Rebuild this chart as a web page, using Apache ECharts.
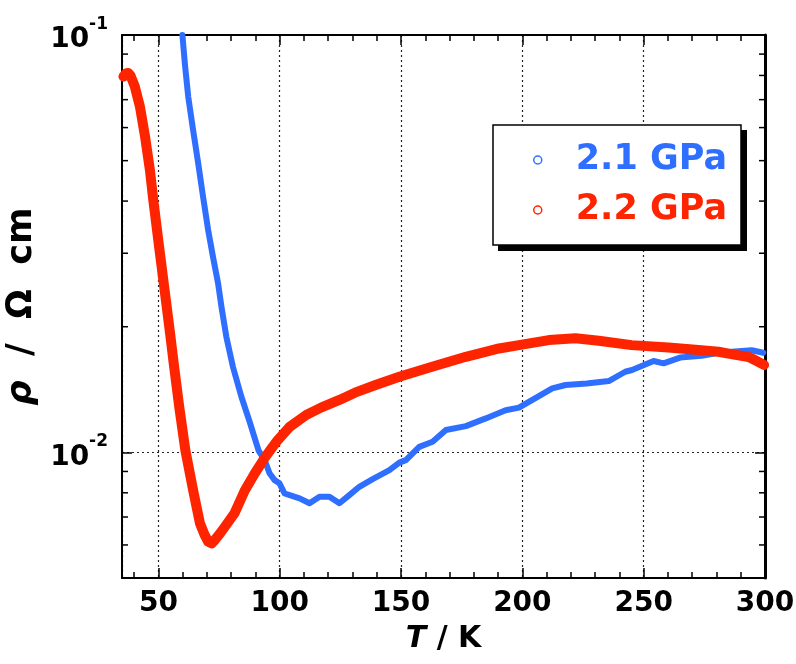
<!DOCTYPE html>
<html><head><meta charset="utf-8">
<script src="https://cdn.jsdelivr.net/npm/echarts@6/dist/echarts.min.js"></script>
<style>html,body{margin:0;padding:0;background:#fff}#c{width:796px;height:664px}</style>
</head><body><div id="c"></div>
<script>
// ---- data ----
const seriesNames = ['2.1 GPa', '2.2 GPa'];
const tempBlue = [59.9, 60.9, 62.3, 64.3, 66.4, 68.4, 70.5, 72.5, 74.6, 76.0, 78.0, 80.7, 84.2, 87.6, 91.3, 93.8, 95.8, 97.9, 99.9, 102.0, 104.1, 108.2, 112.3, 116.4, 120.5, 124.6, 128.7, 132.8, 138.3, 145.2, 149.3, 152.0, 157.5, 163.0, 168.5, 176.7, 184.9, 193.1, 198.6, 206.8, 212.3, 217.8, 226.5, 235.6, 242.4, 245.2, 254.1, 258.2, 265.0, 273.9, 280.8, 286.3, 294.5, 299.3];
const rhoBlue = [0.100, 0.0855, 0.0711, 0.0592, 0.0493, 0.0410, 0.0341, 0.0294, 0.0254, 0.0223, 0.01892, 0.01604, 0.01359, 0.01184, 0.0101, 0.00958, 0.00891, 0.00858, 0.00843, 0.00797, 0.00790, 0.00776, 0.00755, 0.00783, 0.00783, 0.00755, 0.00790, 0.00827, 0.00863, 0.00907, 0.00945, 0.00958, 0.01031, 0.01060, 0.01131, 0.01156, 0.01206, 0.01262, 0.0128, 0.01364, 0.01423, 0.01450, 0.01463, 0.01482, 0.01560, 0.01575, 0.01655, 0.01634, 0.01687, 0.01703, 0.01733, 0.01742, 0.01756, 0.01733];
const tempRed = [35.6, 36.6, 37.6, 38.5, 40.3, 42.4, 44.5, 46.5, 47.9, 50.1, 52.9, 54.8, 56.5, 58.6, 61.1, 64.3, 67.1, 69.0, 70.5, 71.9, 73.2, 75.0, 77.3, 81.4, 85.6, 89.7, 93.8, 96.0, 99.2, 104.1, 110.9, 117.0, 124.6, 131.0, 139.5, 149.3, 162.8, 176.7, 190.4, 198.6, 210.9, 221.9, 231.5, 245.0, 260.2, 272.6, 280.8, 286.1, 293.3, 297.2, 299.6];
const rhoRed = [0.0795, 0.0809, 0.0811, 0.0800, 0.0752, 0.0673, 0.0571, 0.0475, 0.0402, 0.0317, 0.0236, 0.0193, 0.0160, 0.01284, 0.01013, 0.00812, 0.00677, 0.00635, 0.00611, 0.00605, 0.00616, 0.00635, 0.00662, 0.00715, 0.0081, 0.0089, 0.0097, 0.0101, 0.0107, 0.01151, 0.01229, 0.0128, 0.01335, 0.0139, 0.0145, 0.01518, 0.01604, 0.01694, 0.01774, 0.01807, 0.01858, 0.01876, 0.01851, 0.01807, 0.01784, 0.01758, 0.01742, 0.01720, 0.01692, 0.01648, 0.0162];
const xTickLabels = [50, 100, 150, 200, 250, 300];
const yMinorTicks = [0.006, 0.007, 0.008, 0.009, 0.02, 0.03, 0.04, 0.05, 0.06, 0.07, 0.08, 0.09];
const xMin = 35, xMax = 300, yMin = 0.005, yMax = 0.1;

// ---- chart ----
const font = 'DejaVu Sans';
const blue = '#2f6fff', red = '#ff2400';
const chart = echarts.init(document.getElementById('c'), null, {renderer: 'canvas'});
const pairs = (xs, ys) => xs.map((x, i) => [x, ys[i]]);
const isPow10 = v => { const l = Math.log10(v); return Math.abs(l - Math.round(l)) < 1e-6; };
const gridLine = {show: true, lineStyle: {color: '#222', type: [2, 3], width: 1.2}};
const tickStyle = {color: '#000', width: 1.5};

const option = {
  animation: false,
  backgroundColor: '#fff',
  grid: {left: 122, right: 31, top: 35, bottom: 86, outerBoundsMode: 'none', containLabel: false},
  graphic: [{
    type: 'rect', left: 498, top: 130, z: 3, silent: true,
    shape: {width: 249, height: 121}, style: {fill: '#000'}
  }],
  xAxis: [{
    type: 'value', min: xMin, max: xMax, splitNumber: 5, position: 'bottom',
    axisLine: {lineStyle: {color: '#000', width: 2}},
    axisTick: {inside: true, length: 10, lineStyle: tickStyle},
    minorTick: {show: true, splitNumber: 5, length: 6, lineStyle: tickStyle},
    splitLine: gridLine,
    axisLabel: {margin: 12, fontFamily: font, fontWeight: 'bold', fontSize: 28, color: '#000',
      formatter: v => xTickLabels.includes(v) ? String(v) : ''},
    name: '{i|T} / K', nameLocation: 'middle', nameGap: 46,
    nameTextStyle: {fontFamily: font, fontWeight: 'bold', fontSize: 30, color: '#000',
      rich: {i: {fontStyle: 'italic', fontFamily: font, fontWeight: 'bold', fontSize: 30, color: '#000'}}}
  }, {
    type: 'value', min: xMin, max: xMax, splitNumber: 5, position: 'top',
    axisLine: {lineStyle: {color: '#000', width: 2}},
    axisTick: {inside: true, length: 10, lineStyle: tickStyle},
    minorTick: {show: true, splitNumber: 5, length: 6, lineStyle: tickStyle},
    splitLine: {show: false}, axisLabel: {show: false}
  }],
  yAxis: [{
    type: 'log', logBase: 10, min: yMin, max: yMax, position: 'left',
    axisLine: {lineStyle: {color: '#000', width: 2}},
    axisTick: {inside: true, length: 10, lineStyle: tickStyle},
    splitLine: gridLine,
    axisLabel: {margin: 14, color: '#000',
      formatter: v => isPow10(v) ? '{b|10}{s|' + Math.round(Math.log10(v)) + '}' : '',
      rich: {
        b: {fontFamily: font, fontWeight: 'bold', fontSize: 28, color: '#000', verticalAlign: 'bottom', lineHeight: 38},
        s: {fontFamily: font, fontWeight: 'bold', fontSize: 17, color: '#000', verticalAlign: 'top', lineHeight: 20}
      }},
    name: '{i|ρ}  /  Ω  cm', nameLocation: 'middle', nameGap: 63, nameRotate: 90,
    nameTextStyle: {fontFamily: font, fontWeight: 'bold', fontSize: 35, color: '#000',
      rich: {i: {fontStyle: 'italic', fontFamily: font, fontWeight: 'bold', fontSize: 35, color: '#000'}}}
  }, {
    type: 'log', logBase: 10, min: yMin, max: yMax, position: 'right',
    axisLine: {lineStyle: {color: '#000', width: 3}},
    axisTick: {inside: true, length: 10, lineStyle: tickStyle},
    splitLine: {show: false}, axisLabel: {show: false}
  }],
  legend: {
    orient: 'vertical', left: 493, top: 125, padding: [15, 14, 15, 40], itemGap: 10, z: 4,
    itemWidth: 8, itemHeight: 8,
    backgroundColor: '#fff', borderColor: '#000', borderWidth: 1.5,
    textStyle: {fontFamily: font, fontWeight: 'bold', fontSize: 35, lineHeight: 40, padding: [0, 0, 0, 29]},
    data: [
      {name: seriesNames[0], icon: 'circle', itemStyle: {color: '#fff', borderColor: blue, borderWidth: 1.5}, textStyle: {color: blue}},
      {name: seriesNames[1], icon: 'circle', itemStyle: {color: '#fff', borderColor: red, borderWidth: 1.5}, textStyle: {color: red}}
    ]
  },
  series: [{
    name: seriesNames[0], type: 'line', data: pairs(tempBlue, rhoBlue),
    showSymbol: false, symbol: 'none', z: 2,
    lineStyle: {color: blue, width: 6, cap: 'round', join: 'round'}, itemStyle: {color: blue}
  }, {
    name: seriesNames[1], type: 'line', data: pairs(tempRed, rhoRed),
    showSymbol: false, symbol: 'none', z: 2,
    lineStyle: {color: red, width: 10, cap: 'round', join: 'round'}, itemStyle: {color: red}
  }, {
    name: 'yMinorTicks', type: 'custom', silent: true, z: 2,
    data: yMinorTicks.map(v => [xMin, v]), encode: {x: 0, y: 1},
    renderItem: (params, api) => {
      const v = api.value(1);
      const l = api.coord([xMin, v]);
      const r = api.coord([xMax, v]);
      return {type: 'group', children: [
        {type: 'line', shape: {x1: l[0], y1: l[1], x2: l[0] + 6, y2: l[1]}, style: {stroke: '#000', lineWidth: 1.5}},
        {type: 'line', shape: {x1: r[0] - 6, y1: r[1], x2: r[0], y2: r[1]}, style: {stroke: '#000', lineWidth: 1.5}}
      ]};
    }
  }]
};
chart.setOption(option);
</script>
</body></html>
